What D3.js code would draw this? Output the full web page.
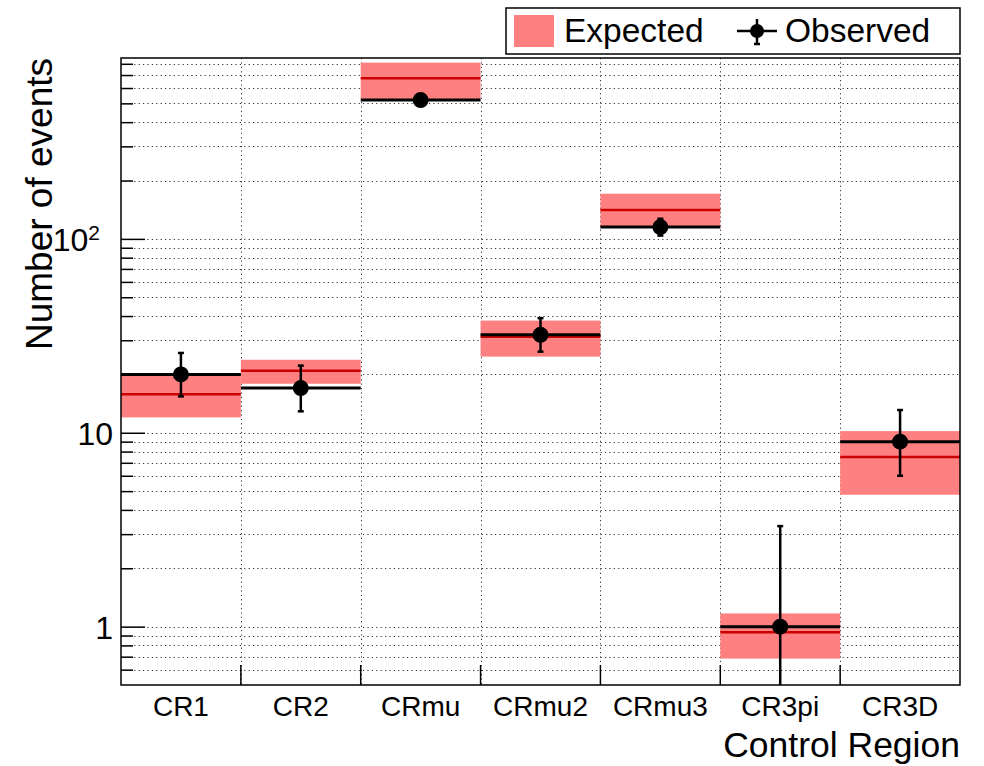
<!DOCTYPE html>
<html>
<head>
<meta charset="utf-8">
<script src="https://cdn.jsdelivr.net/npm/d3@7"></script>
<style>
  html, body { margin: 0; padding: 0; background: #fff; }
  svg { display: block; font-family: "Liberation Sans", Arial, Helvetica, sans-serif; }
</style>
</head>
<body>
<svg id="chart" width="984" height="766"></svg>
<script>
// Control regions
const regions = ["CR1", "CR2", "CRmu", "CRmu2", "CRmu3", "CR3pi", "CR3D"];

// Expected yields with their uncertainty band
const expected     = [15.8, 20.9, 673, 31.3, 141, 0.935, 7.5];
const expectedLow  = [12.0, 17.9, 525, 24.7, 114, 0.684, 4.79];
const expectedHigh = [19.7, 23.8, 811, 37.9, 171, 1.17, 10.2];

// Observed counts with error bar ends
const observed     = [20, 17, 520, 32, 115, 1, 9];
const observedLow  = [15.4, 12.9, 497, 26.2, 104, 0.17, 6.0];
const observedHigh = [25.8, 22.2, 543, 39.0, 127, 3.3, 13.1];

// Axis ticks
const majorTicks = [1, 10, 100];
const minorTicks = [0.6, 0.7, 0.8, 0.9, 2, 3, 4, 5, 6, 7, 8, 9, 20, 30, 40, 50, 60, 70, 80, 90, 200, 300, 400, 500, 600, 700, 800];

const rows = regions.map((r, i) => ({
  region: r,
  exp: expected[i], expLo: expectedLow[i], expHi: expectedHigh[i],
  obs: observed[i], obsLo: observedLow[i], obsHi: observedHigh[i]
}));

const svg = d3.select("#chart");
const L = 121, R = 960, T = 58, B = 685;

const x = d3.scaleBand().domain(regions).range([L, R]).padding(0);
const y = d3.scaleLog().domain([0.5, 857]).range([B, T]);

const bandColor = "#ff8080";
const expLineColor = "#cc0000";

// clip to plot frame
svg.append("defs").append("clipPath").attr("id", "plotclip")
  .append("rect").attr("x", L).attr("y", T).attr("width", R - L).attr("height", B - T);

// grid
const grid = svg.append("g").attr("stroke", "#333").attr("stroke-width", 1)
  .attr("stroke-dasharray", "1.2,3.2");
grid.selectAll("line.h").data(majorTicks.concat(minorTicks)).join("line")
  .attr("class", "h")
  .attr("x1", L).attr("x2", R)
  .attr("y1", d => Math.round(y(d)) + 0.5).attr("y2", d => Math.round(y(d)) + 0.5);
const edges = regions.slice(1).map(r => x(r));
grid.selectAll("line.v").data(edges).join("line")
  .attr("class", "v")
  .attr("y1", T).attr("y2", B)
  .attr("x1", d => Math.round(d) + 0.5).attr("x2", d => Math.round(d) + 0.5);

const plot = svg.append("g").attr("clip-path", "url(#plotclip)");

// expected bands
plot.selectAll("rect.band").data(rows).join("rect")
  .attr("class", "band")
  .attr("x", d => x(d.region)).attr("width", x.bandwidth())
  .attr("y", d => y(d.expHi)).attr("height", d => y(d.expLo) - y(d.expHi))
  .attr("fill", bandColor);

// expected central values
plot.selectAll("line.exp").data(rows).join("line")
  .attr("class", "exp")
  .attr("x1", d => x(d.region)).attr("x2", d => x(d.region) + x.bandwidth())
  .attr("y1", d => y(d.exp)).attr("y2", d => y(d.exp))
  .attr("stroke", expLineColor).attr("stroke-width", 2.5);

// observed: horizontal bin-width line
plot.selectAll("line.obs").data(rows).join("line")
  .attr("class", "obs")
  .attr("x1", d => x(d.region)).attr("x2", d => x(d.region) + x.bandwidth())
  .attr("y1", d => y(d.obs)).attr("y2", d => y(d.obs))
  .attr("stroke", "#000").attr("stroke-width", 3);

// observed: vertical error bars with caps
const cx = d => x(d.region) + x.bandwidth() / 2;
plot.selectAll("line.err").data(rows).join("line")
  .attr("class", "err")
  .attr("x1", cx).attr("x2", cx)
  .attr("y1", d => y(d.obsHi)).attr("y2", d => y(d.obsLo))
  .attr("stroke", "#000").attr("stroke-width", 2.5);
plot.selectAll("line.capHi").data(rows).join("line")
  .attr("class", "capHi")
  .attr("x1", d => cx(d) - 3).attr("x2", d => cx(d) + 3)
  .attr("y1", d => y(d.obsHi)).attr("y2", d => y(d.obsHi))
  .attr("stroke", "#000").attr("stroke-width", 2.5);
plot.selectAll("line.capLo").data(rows).join("line")
  .attr("class", "capLo")
  .attr("x1", d => cx(d) - 3).attr("x2", d => cx(d) + 3)
  .attr("y1", d => y(d.obsLo)).attr("y2", d => y(d.obsLo))
  .attr("stroke", "#000").attr("stroke-width", 2.5);

// observed markers
plot.selectAll("circle.obs").data(rows).join("circle")
  .attr("class", "obs")
  .attr("cx", cx).attr("cy", d => y(d.obs)).attr("r", 8)
  .attr("fill", "#000");

// frame
svg.append("rect").attr("x", L).attr("y", T).attr("width", R - L).attr("height", B - T)
  .attr("fill", "none").attr("stroke", "#000").attr("stroke-width", 1.5);

// y axis: major ticks with labels
const yMajor = d3.axisLeft(y).tickValues(majorTicks).tickSize(-24).tickPadding(32)
  .tickFormat(d => d === 100 ? "10" : String(d));
const gY = svg.append("g").attr("transform", `translate(${L},0)`).call(yMajor);
gY.select(".domain").remove();
gY.selectAll(".tick line").attr("stroke", "#000").attr("stroke-width", 1.5);
gY.selectAll(".tick text").attr("font-size", 32).attr("fill", "#000")
  .attr("x", -8).attr("dy", "0.36em")
  .each(function(d) {
    if (d === 100) {
      const t = d3.select(this).attr("x", -21);
      t.append("tspan").attr("dy", "-0.5em").attr("font-size", 21).text("2");
    }
  });

// y axis: minor ticks
const yMinor = d3.axisLeft(y).tickValues(minorTicks).tickSize(-12).tickFormat("");
const gYm = svg.append("g").attr("transform", `translate(${L},0)`).call(yMinor);
gYm.select(".domain").remove();
gYm.selectAll(".tick line").attr("stroke", "#000").attr("stroke-width", 1.5);

// x axis: bin edge ticks and category labels
const xAxis = d3.axisBottom(x).tickSize(0);
const gX = svg.append("g").attr("transform", `translate(0,${B})`).call(xAxis);
gX.select(".domain").remove();
gX.selectAll(".tick text").attr("font-size", 28).attr("fill", "#000")
  .attr("y", 31).attr("dy", 0);
gX.selectAll("line.edge").data(edges).join("line")
  .attr("class", "edge")
  .attr("x1", d => d).attr("x2", d => d).attr("y1", 0).attr("y2", -20)
  .attr("stroke", "#000").attr("stroke-width", 1.5);

// axis titles
svg.append("text").attr("x", R).attr("y", 757).attr("text-anchor", "end")
  .attr("font-size", 35.5).attr("fill", "#000").text("Control Region");
svg.append("text").attr("transform", "translate(52,58) rotate(-90)")
  .attr("text-anchor", "end").attr("font-size", 37).attr("fill", "#000")
  .text("Number of events");

// legend
const lg = svg.append("g");
lg.append("rect").attr("x", 506).attr("y", 8).attr("width", 454).attr("height", 46)
  .attr("fill", "#fff").attr("stroke", "#000").attr("stroke-width", 1.5);
lg.append("rect").attr("x", 514).attr("y", 15).attr("width", 40).attr("height", 32).attr("fill", bandColor);
lg.append("text").attr("x", 564).attr("y", 42).attr("font-size", 33.5).attr("fill", "#000").text("Expected");
lg.append("line").attr("x1", 737).attr("x2", 777).attr("y1", 31).attr("y2", 31)
  .attr("stroke", "#000").attr("stroke-width", 2.5);
lg.append("line").attr("x1", 757).attr("x2", 757).attr("y1", 19).attr("y2", 44)
  .attr("stroke", "#000").attr("stroke-width", 2.5);
lg.append("line").attr("x1", 754).attr("x2", 760).attr("y1", 44).attr("y2", 44)
  .attr("stroke", "#000").attr("stroke-width", 2.5);
lg.append("circle").attr("cx", 757).attr("cy", 31).attr("r", 7).attr("fill", "#000");
lg.append("text").attr("x", 785).attr("y", 42).attr("font-size", 33.5).attr("fill", "#000").text("Observed");
</script>
</body>
</html>
